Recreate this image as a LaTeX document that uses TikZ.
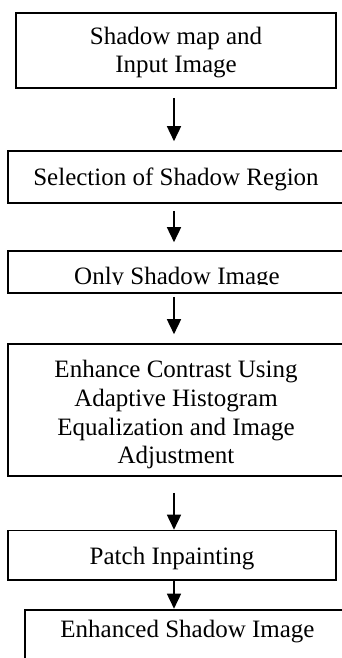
\documentclass[tikz,border=0pt]{standalone}
\usepackage{fontspec}
\setmainfont{Liberation Serif}
\usetikzlibrary{arrows.meta}
\begin{document}
\begin{tikzpicture}[x=1pt,y=-1pt,
  box/.style={draw, line width=1.6pt, inner sep=0pt},
  lbl/.style={anchor=base, inner sep=0pt, font=\fontsize{25}{30}\selectfont},
  arr/.style={line width=1.6pt, -{Triangle[length=15pt,width=14pt]}}]
\clip (0,0) rectangle (342,658);
\fill[white] (0,0) rectangle (342,658);
\coordinate (ax) at (174,0);
% boxes
\node[box, minimum width=320pt, minimum height=75pt] (b1) at (176,50.5) {};
\node[box, minimum width=336pt, minimum height=52pt] (b2) at (176,177) {};
\node[box, minimum width=336pt, minimum height=42pt] (b3) at (176,272) {};
\node[box, minimum width=336pt, minimum height=132pt] (b4) at (176,410) {};
\node[box, minimum width=328pt, minimum height=49.5pt] (b5) at (172,555.25) {};
\node[box, minimum width=325pt, minimum height=90pt] (b6) at (187.5,655) {};
% texts
\node[lbl] (t1a) at (176,45) {Shadow map and};
\node[lbl] (t1b) at (176,73) {Input Image};
\node[lbl] (t2) at (176,185) {Selection of Shadow Region};
\begin{scope}
  \clip ([yshift=-1pt]b3.north west) rectangle ([yshift=9pt]b3.south east);
  \node[lbl] (t3) at (177,284) {Only Shadow Image};
\end{scope}
\node[lbl] (t4a) at (176,377) {Enhance Contrast Using};
\node[lbl] (t4b) at (176,406) {Adaptive Histogram};
\node[lbl] (t4c) at (176,435) {Equalization and Image};
\node[lbl] (t4d) at (176,463) {Adjustment};
\node[lbl] (t5) at (172,564) {Patch Inpainting};
\node[lbl] (t6) at (187.5,637) {Enhanced Shadow Image};
% arrows
\draw[arr, shorten <=9pt, shorten >=9pt] (b1.south -| ax) -- (b2.north -| ax);
\draw[arr, shorten <=7pt, shorten >=8pt] (b2.south -| ax) -- (b3.north -| ax);
\draw[arr, shorten <=3pt, shorten >=9pt] (b3.south -| ax) -- (b4.north -| ax);
\draw[arr, shorten <=16pt, shorten >=0pt] (b4.south -| ax) -- (b5.north -| ax);
\draw[arr, shorten <=0pt, shorten >=0.5pt] (b5.south -| ax) -- (b6.north -| ax);
\end{tikzpicture}
\end{document}
